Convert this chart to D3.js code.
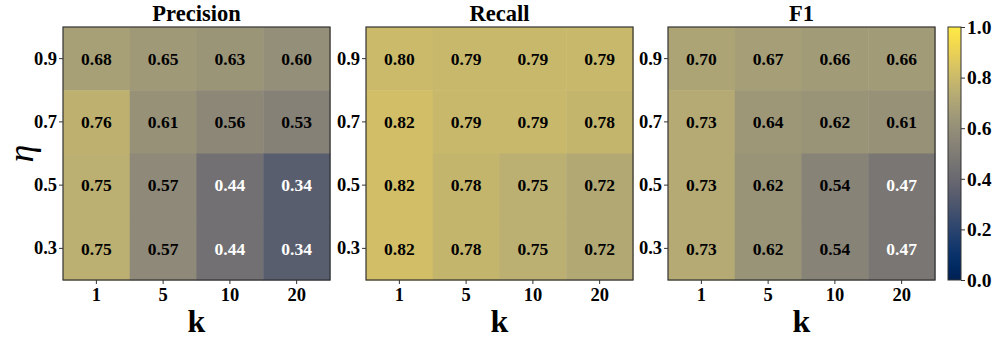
<!DOCTYPE html>
<html><head><meta charset="utf-8">
<script src="https://cdn.jsdelivr.net/npm/d3@7"></script>
<style>body{margin:0;background:#fff}svg{display:block}</style>
</head><body>
<script>
const kLabels = ["1","5","10","20"];
const etaLabels = ["0.9","0.7","0.5","0.3"];
const titles = ["Precision","Recall","F1"];
const precision = [[0.68,0.65,0.63,0.60],[0.76,0.61,0.56,0.53],[0.75,0.57,0.44,0.34],[0.75,0.57,0.44,0.34]];
const recall = [[0.80,0.79,0.79,0.79],[0.82,0.79,0.79,0.78],[0.82,0.78,0.75,0.72],[0.82,0.78,0.75,0.72]];
const f1 = [[0.70,0.67,0.66,0.66],[0.73,0.64,0.62,0.61],[0.73,0.62,0.54,0.47],[0.73,0.62,0.54,0.47]];
const cbTicks = [0.0,0.2,0.4,0.6,0.8,1.0];

(function(){
const W=997,H=338;
const font="'Liberation Serif','Times New Roman',serif";
const svg=d3.select("body").append("svg").attr("width",W).attr("height",H);
const defs=svg.append("defs");
const color=d3.scaleSequential(d3.interpolateCividis).domain([0,1]);
const panels=[precision,recall,f1];
const lefts=[63,366,668];
const pw=267, py=27, ph=253;

panels.forEach((data,pi)=>{
  const g=svg.append("g").attr("transform",`translate(${lefts[pi]},${py})`);
  const x=d3.scaleBand().domain(kLabels).range([0,pw]);
  const y=d3.scaleBand().domain(etaLabels).range([0,ph]);
  etaLabels.forEach((e,ri)=>{
    kLabels.forEach((k,ci)=>{
      const v=data[ri][ci];
      g.append("rect").attr("x",x(k)).attr("y",y(e)).attr("width",x.bandwidth()+0.5).attr("height",y.bandwidth()+0.5)
        .attr("fill",color(v));
      g.append("text").attr("x",x(k)+x.bandwidth()/2).attr("y",y(e)+y.bandwidth()/2)
        .attr("dy","0.35em").attr("text-anchor","middle")
        .attr("font-family",font).attr("font-weight","bold").attr("font-size",17.5)
        .attr("fill",v<0.5?"#fff":"#000").text(v.toFixed(2));
    });
  });
  g.append("rect").attr("width",pw).attr("height",ph).attr("fill","none").attr("stroke","#333").attr("stroke-width",1.2);
  const xa=g.append("g").attr("transform",`translate(0,${ph})`).call(d3.axisBottom(x).tickSize(4).tickPadding(4));
  const ya=g.append("g").call(d3.axisLeft(y).tickSize(4).tickPadding(2));
  [xa,ya].forEach(a=>{a.select(".domain").remove();
    a.selectAll("line").attr("stroke","#333");
    a.selectAll("text").attr("font-family",font).attr("font-weight","bold").attr("font-size",18.5).attr("fill","#000");});
  g.append("text").attr("x",pw/2).attr("y",-6).attr("text-anchor","middle")
    .attr("font-family",font).attr("font-weight","bold").attr("font-size",22.5).text(titles[pi]);
  g.append("text").attr("x",pw/2).attr("y",ph+52).attr("text-anchor","middle")
    .attr("font-family",font).attr("font-weight","bold").attr("font-size",32).text("k");
});

svg.append("text").attr("transform",`translate(33,${py+ph/2}) rotate(-90)`).attr("text-anchor","middle")
  .attr("font-family",font).attr("font-style","italic").attr("font-size",36).text("η");

const cbx=948, cbw=13;
const grad=defs.append("linearGradient").attr("id","cb").attr("x1",0).attr("y1",1).attr("x2",0).attr("y2",0);
d3.range(0,1.0001,0.05).forEach(t=>grad.append("stop").attr("offset",t).attr("stop-color",d3.interpolateCividis(t)));
svg.append("rect").attr("x",cbx).attr("y",py).attr("width",cbw).attr("height",ph).attr("fill","url(#cb)")
  .attr("stroke","#333").attr("stroke-width",1);
const cy=d3.scaleLinear().domain([0,1]).range([py+ph,py]);
const ca=svg.append("g").attr("transform",`translate(${cbx+cbw},0)`).call(d3.axisRight(cy).tickValues(cbTicks).tickFormat(d3.format(".1f")).tickSize(4).tickPadding(2));
ca.select(".domain").remove();
ca.selectAll("line").attr("stroke","#333");
ca.selectAll("text").attr("font-family",font).attr("font-weight","bold").attr("font-size",19.5).attr("fill","#000");
})();
</script>
</body></html>
